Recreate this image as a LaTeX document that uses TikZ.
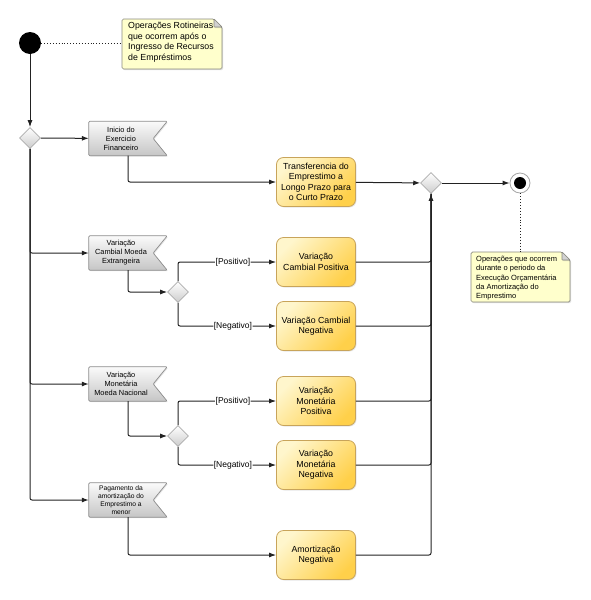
\documentclass[tikz,border=0pt]{standalone}
\usepackage{fontspec}
\setmainfont{Liberation Sans}
\usetikzlibrary{arrows.meta,shapes.geometric,shadows,backgrounds}
\definecolor{boxlight}{HTML}{FFF6CC}
\definecolor{boxdark}{HTML}{FFD04A}
\definecolor{boxborder}{HTML}{C8A45A}
\definecolor{notefill}{HTML}{FFFFCC}
\definecolor{noteborder}{HTML}{8A8A80}
\definecolor{evborder}{HTML}{8C8C8C}
\definecolor{linec}{HTML}{222222}
\tikzset{
  actbox/.style={draw=boxborder, line width=0.8pt, rounded corners=7pt,
    top color=boxlight, bottom color=boxdark, shading angle=45,
    minimum width=79pt, minimum height=49pt, align=center, inner sep=1pt,
    font=\fontsize{8.8}{10.5}\selectfont,
    drop shadow={opacity=0.2, shadow xshift=1pt, shadow yshift=-1pt}},
  evtext/.style={minimum width=64pt, minimum height=34pt, align=center, inner sep=0pt,
    font=\fontsize{7.4}{9}\selectfont},
  evshape/.style={draw=evborder, line width=0.7pt, top color=gray!4, bottom color=gray!45,
    drop shadow={opacity=0.2, shadow xshift=1pt, shadow yshift=-1pt}},
  decision/.style={diamond, draw=gray!65, line width=0.7pt, top color=white, bottom color=gray!40,
    minimum width=21pt, minimum height=21pt, inner sep=0pt},
  notetext/.style={align=left, inner sep=0pt, anchor=north west},
  noteshape/.style={draw=noteborder, line width=0.7pt, fill=notefill,
    drop shadow={opacity=0.25, shadow xshift=1.2pt, shadow yshift=-1.2pt}},
  flow/.style={draw=linec, line width=1pt, rounded corners=2pt,
    -{Latex[length=7pt,width=5pt]}},
  plain/.style={draw=linec, line width=1pt, rounded corners=2pt},
  guard/.style={fill=white, inner sep=0.5pt, font=\fontsize{8.5}{9}\selectfont},
  dots/.style={draw=linec, line width=0.9pt, dotted}
}
\begin{document}
\begin{tikzpicture}[x=1pt,y=-1pt]
\useasboundingbox (0,0) rectangle (590,600);

% start / end
\node[circle, fill=black, minimum size=22pt, inner sep=0pt] (start) at (30,43) {};
\node[circle, draw=gray!70, line width=0.8pt, fill=white, minimum size=20pt, inner sep=0pt,
  path picture={\fill[black] (path picture bounding box.center) circle (6pt);}] (end) at (520,183) {};

% notes
\node[notetext, font=\fontsize{8.8}{10.7}\selectfont] (n1t) at (128,22) {Operações Rotineiras\\que ocorrem após o\\Ingresso de Recursos\\de Empréstimos};
\coordinate (n1nw) at (122,19); \coordinate (n1se) at (222,69);
\coordinate (n2nw) at (471,252); \coordinate (n2se) at (570,302);
\node[notetext, font=\fontsize{7.5}{9.3}\selectfont] (n2t) at (476,256) {Operações que ocorrem\\durante o periodo da\\Execução Orçamentária\\da Amortização do\\Emprestimo};
\begin{scope}[on background layer]
  \draw[noteshape, rounded corners=1.5pt] (n1nw) -- (214,19) -- (222,27) -- (n1se) -- (122,69) -- cycle;
  \draw[noteshape, fill=gray!35, rounded corners=0.5pt] (214,19) -- (214,27) -- (222,27) -- cycle;
  \draw[noteshape, rounded corners=1.5pt] (n2nw) -- (562,252) -- (570,260) -- (n2se) -- (471,302) -- cycle;
  \draw[noteshape, fill=gray!35, rounded corners=0.5pt] (562,252) -- (562,260) -- (570,260) -- cycle;
\end{scope}

% decisions
\node[decision] (d1) at (30,138) {};
\node[decision] (d2) at (178,292) {};
\node[decision] (d3) at (178,436) {};
\node[decision] (m) at (431,183) {};

% events
\node[evtext] (e1) at (121,138.5) {Inicio do\\Exercicio\\Financeiro};
\node[evtext] (e2) at (121,253) {Variação\\Cambial Moeda\\Extrangeira};
\node[evtext] (e3) at (121,384) {Variação\\Monetária\\Moeda Nacional};
\node[evtext, font=\fontsize{6.7}{7.8}\selectfont] (e4) at (121,500) {Pagamento da\\amortização do\\Emprestimo a\\menor};
\begin{scope}[on background layer]
\foreach \e in {e1,e2,e3,e4}{
  \draw[evshape, rounded corners=1pt] (\e.north west) -- ([xshift=14pt]\e.north east) -- (\e.east)
     -- ([xshift=14pt]\e.south east) -- (\e.south west) -- cycle;
}
\end{scope}

% action boxes
\node[actbox] (a1) at (316,182) {Transferencia do\\Emprestimo a\\Longo Prazo para\\o Curto Prazo};
\node[actbox] (a2) at (316,262) {Variação\\Cambial Positiva};
\node[actbox] (a3) at (316,326) {Variação Cambial\\Negativa};
\node[actbox] (a4) at (316,401) {Variação\\Monetária\\Positiva};
\node[actbox] (a5) at (316,465) {Variação\\Monetária\\Negativa};
\node[actbox] (a6) at (316,555) {Amortização\\Negativa};

% connectors
\draw[dots] (start.east) -- (start.east -| n1nw);
\draw[dots] (end.south) -- (end.south |- n2nw);
\draw[flow] (start) -- (d1);
\draw[flow] (d1) -- (e1);
\draw[flow] (d1.south) |- (e2.west);
\draw[flow] (d1.south) |- (e3.west);
\draw[flow] (d1.south) |- (e4.west);

\draw[flow] ([xshift=7pt]e1.south) |- (a1.west);
\draw[flow] ([xshift=7pt]e2.south) |- (d2.west);
\draw[flow] ([xshift=7pt]e3.south) |- (d3.west);
\draw[flow] ([xshift=7pt]e4.south) |- (a6.west);

\draw[flow] (d2.north) |- node[guard, pos=0.78] {[Positivo]} (a2.west);
\draw[flow] (d2.south) |- node[guard, pos=0.78] {[Negativo]} (a3.west);
\draw[flow] (d3.north) |- node[guard, pos=0.78] {[Positivo]} (a4.west);
\draw[flow] (d3.south) |- node[guard, pos=0.78] {[Negativo]} (a5.west);

\draw[flow] (a1) -- (m);
\draw[flow] (m) -- (end);
\draw[flow] (a6.east) -| (m.south);
\draw[plain] (a2.east) -| (m.south);
\draw[plain] (a3.east) -| (m.south);
\draw[plain] (a4.east) -| (m.south);
\draw[plain] (a5.east) -| (m.south);
\end{tikzpicture}
\end{document}
